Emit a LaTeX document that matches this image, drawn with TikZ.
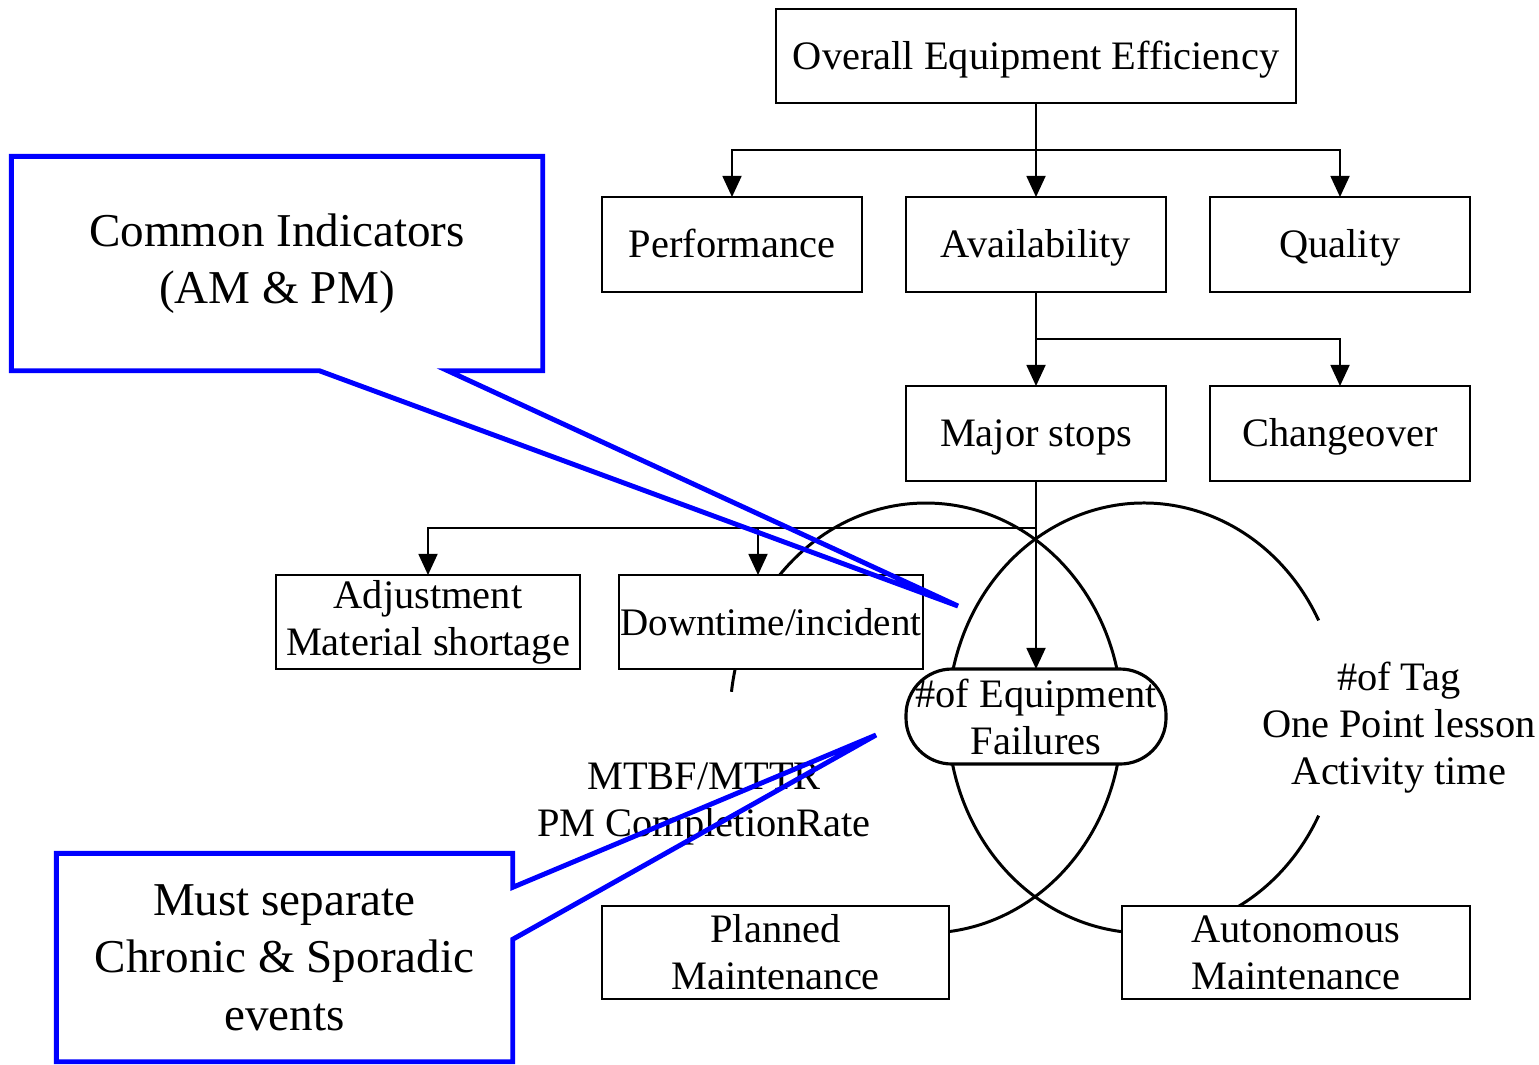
\documentclass[tikz,border=0pt]{standalone}
\usepackage{fontspec}
\setmainfont{Liberation Serif}
\usetikzlibrary{arrows.meta, positioning}
\definecolor{calloutblue}{RGB}{0, 0, 255}

\begin{document}
\begin{tikzpicture}[
    node distance=0.94cm and 0.44cm,
    box/.style={rectangle, draw, line width=0.6pt, fill=white, minimum width=2.6cm, minimum height=0.95cm, inner sep=0pt, outer sep=0pt, align=center, font=\fontsize{11.5}{13.4}\selectfont},
    onebox/.style={box, text height=0.36cm, text depth=0.1cm},
    failbox/.style={box, line width=0.9pt, rounded corners=0.46cm},
    arrow/.style={-{Triangle[length=6pt, width=5.4pt]}, line width=0.55pt},
    loop/.style={line width=0.85pt},
    callout/.style={draw=calloutblue, line width=1.4pt},
    note/.style={align=center, inner sep=0pt, font=\fontsize{11.5}{13.4}\selectfont},
    bignote/.style={align=center, inner sep=0pt, font=\fontsize{13.4}{16.3}\selectfont}
]
\useasboundingbox (0,0) rectangle (15.39,-10.64);

% the two maintenance loops
\coordinate (pmc) at (9.26,-7.18);
\coordinate (amc) at (11.44,-7.18);
\draw[loop] ([shift={(-95:1.96 and 2.15)}]pmc) arc[start angle=-95, end angle=173, x radius=1.96, y radius=2.15];
\draw[loop] ([shift={(27:1.96 and 2.15)}]amc) arc[start angle=27, end angle=333, x radius=1.96, y radius=2.15];

\node[onebox, minimum width=5.2cm, minimum height=0.94cm] (oee) at (10.36,-0.56) {Overall Equipment Efficiency};
\node[onebox, below=of oee] (avail) {Availability};
\node[onebox, left=of avail] (perf) {Performance};
\node[onebox, right=of avail] (qual) {Quality};
\node[onebox, below=of avail] (major) {Major stops};
\node[onebox, right=of major] (change) {Changeover};
\node[failbox, below=1.88cm of major] (fail) {\#of Equipment\\Failures};
\node[onebox, minimum width=3.04cm, minimum height=0.94cm, font=\fontsize{11.1}{13.4}\selectfont] (down) at (7.71,-6.22) {Downtime/incident};
\node[box, minimum width=3.04cm, minimum height=0.94cm, left=0.39cm of down] (adjust) {Adjustment\\Material shortage};
\node[box, minimum width=3.47cm, minimum height=0.93cm] (planned) at (7.755,-9.525) {Planned\\Maintenance};
\node[box, minimum width=3.48cm, minimum height=0.93cm] (auto) at (12.96,-9.525) {Autonomous\\Maintenance};

\node[note] (mtbf) at (7.04,-8.04) {MTBF/MTTR\\PM CompletionRate};
\node[note] (tag) at (13.99,-7.28) {\#of Tag\\One Point lesson\\Activity time};

\draw[arrow] (oee) -- (avail);
\draw[arrow] (oee.south) -- ++(0,-0.47) -| (perf);
\draw[arrow] (oee.south) -- ++(0,-0.47) -| (qual);
\draw[arrow] (avail) -- (major);
\draw[arrow] (avail.south) -- ++(0,-0.47) -| (change);
\draw[arrow] (major) -- (fail);
\draw[arrow] (major.south) -- ++(0,-0.47) -| (adjust);
\draw[arrow] (major.south) -- ++(0,-0.47) -| ([xshift=-0.13cm]down.north);

% callouts
\node[bignote, minimum width=5.3cm, minimum height=2.13cm] (common) at (2.77,-2.635) {Common Indicators\\(AM \& PM)};
\coordinate (commontip) at (9.58,-6.06);
\draw[callout] (common.north west) -- (common.north east) -- (common.south east) -- ([xshift=-0.95cm]common.south east) -- (commontip) -- ([xshift=3.08cm]common.south west) -- (common.south west) -- cycle;

\node[bignote, minimum width=4.55cm, minimum height=2.07cm] (separate) at (2.845,-9.575) {Must separate\\Chronic \& Sporadic\\events};
\coordinate (separatetip) at (8.76,-7.35);
\draw[callout] (separate.north west) -- (separate.north east) -- ([yshift=-0.34cm]separate.north east) -- (separatetip) -- ([yshift=-0.86cm]separate.north east) -- (separate.south east) -- (separate.south west) -- cycle;

\end{tikzpicture}
\end{document}
